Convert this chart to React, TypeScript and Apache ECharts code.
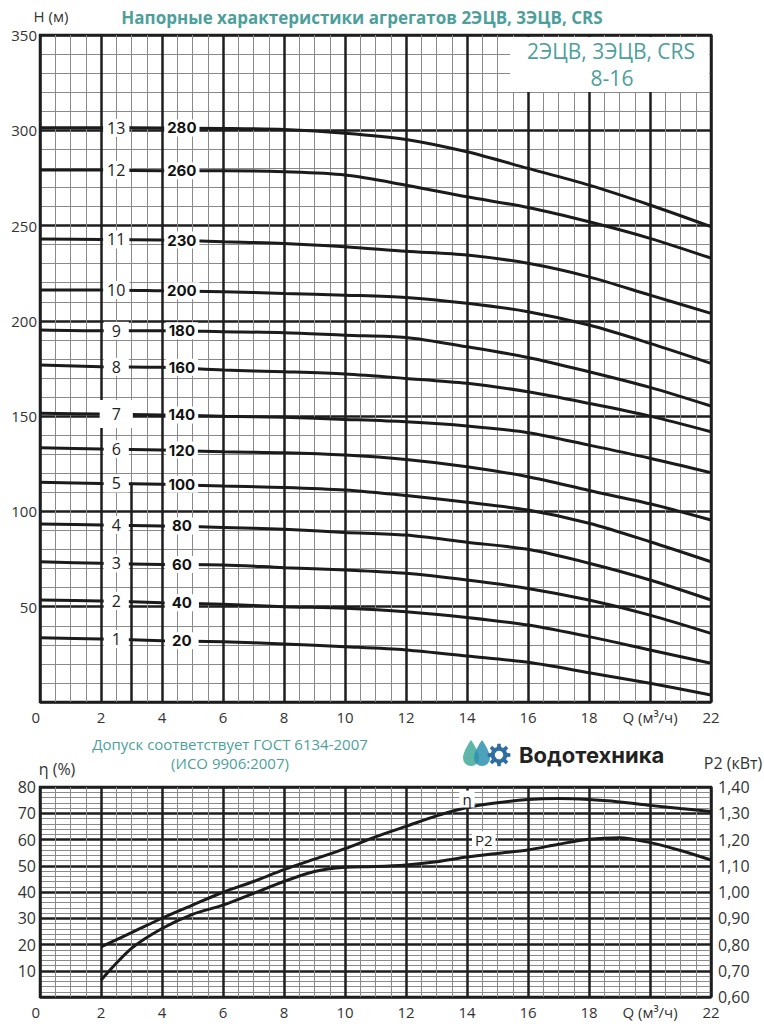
import React, { useEffect, useRef } from "react";
import * as echarts from "echarts";

// ---------- DATA ----------
const Q_POINTS = [0, 2, 4, 6, 8, 10, 12, 14, 16, 18, 20, 22];
const STAGES = [1, 2, 3, 4, 5, 6, 7, 8, 9, 10, 11, 12, 13];
const MODELS = [20, 40, 60, 80, 100, 120, 140, 160, 180, 200, 230, 260, 280];

const H_STAGE_1 = [33.7, 33.1, 32.2, 31.6, 30.4, 29.0, 27.3, 24.1, 20.8, 15.4, 9.8, 3.7];
const H_STAGE_2 = [53.5, 53.0, 52.1, 51.3, 50.0, 49.2, 47.4, 44.4, 40.4, 34.3, 27.3, 20.3];
const H_STAGE_3 = [73.6, 72.8, 72.2, 71.9, 70.5, 69.3, 67.5, 64.0, 59.6, 53.5, 45.6, 36.0];
const H_STAGE_4 = [93.4, 92.9, 92.4, 91.6, 90.6, 89.0, 87.6, 83.8, 80.1, 72.8, 64.0, 53.5];
const H_STAGE_5 = [115.3, 114.7, 114.2, 113.3, 112.6, 111.2, 108.3, 104.8, 100.7, 93.8, 84.1, 73.6];
const H_STAGE_6 = [133.4, 132.7, 132.2, 131.3, 130.8, 129.6, 127.3, 123.5, 118.2, 111.0, 104.0, 95.5];
const H_STAGE_7 = [151.5, 151.1, 150.6, 150.0, 149.4, 148.3, 147.0, 144.8, 141.3, 134.8, 127.9, 120.3];
const H_STAGE_8 = [176.8, 175.9, 175.6, 174.2, 173.3, 172.1, 169.8, 167.2, 162.8, 156.7, 150.0, 141.8];
const H_STAGE_9 = [195.2, 194.8, 194.8, 194.3, 193.8, 192.5, 191.3, 186.4, 180.8, 173.3, 165.1, 155.3];
const H_STAGE_10 = [216.2, 216.2, 215.8, 215.3, 214.4, 213.5, 212.3, 209.2, 204.8, 197.8, 188.2, 177.7];
const H_STAGE_11 = [242.9, 242.7, 242.4, 241.5, 240.6, 238.9, 236.5, 234.5, 230.2, 223.1, 213.5, 203.9];
const H_STAGE_12 = [279.1, 279.1, 278.8, 278.8, 278.2, 276.5, 271.2, 265.1, 259.5, 252.0, 243.3, 232.9];
const H_STAGE_13 = [301.3, 301.3, 301.2, 301.0, 300.4, 298.5, 295.2, 288.7, 280.0, 271.2, 260.8, 249.4];

const HEAD_CURVES = [
  H_STAGE_1, H_STAGE_2, H_STAGE_3, H_STAGE_4, H_STAGE_5, H_STAGE_6, H_STAGE_7,
  H_STAGE_8, H_STAGE_9, H_STAGE_10, H_STAGE_11, H_STAGE_12, H_STAGE_13,
];

// extra vertical rule on the head chart (Q, from H, to H)
const EXTRA_RULE = [[3, 0], [3, 115]];

const EFF_Q = [2, 3, 4, 5, 6, 7, 8, 9, 10, 11, 12, 13, 14, 15, 16, 17, 18, 19, 20, 21, 22];
const EFFICIENCY = [19.1, 24.5, 30.0, 35.0, 39.9, 44.0, 48.5, 52.5, 56.5, 61.0, 65.0, 69.0, 72.2, 74.0, 75.2, 75.6, 75.2, 74.3, 73.0, 71.8, 70.7];
const POWER_P2 = [0.664, 0.785, 0.861, 0.915, 0.95, 0.995, 1.04, 1.078, 1.094, 1.097, 1.103, 1.115, 1.133, 1.147, 1.16, 1.182, 1.201, 1.207, 1.188, 1.158, 1.122];

const CURVE_TAGS = [
  { text: "η", q: 14.0, v: 75.4 },
  { text: "P2", q: 14.55, v: 59.9 },
];

const X_LABEL_REPLACE = { 20: "Q (м³/ч)" } as Record<number, string>;

// ---------- STYLE ----------
const AXIS_FONT = '"Open Sans", "Noto Sans", sans-serif';
const TEAL = "#4d9f9b";
const MAJOR = { color: "#1e1e1e", width: 2.5 };
const MINOR = { color: "#8a8a8a", width: 1 };
const CURVE_COLOR = "#1b1b1b";

// logo shapes
echarts.graphic.registerShape(
  "drop",
  echarts.graphic.extendPath("M8 0 C8 0 0 11 0 18 A8 8 0 0 0 16 18 C16 11 8 0 8 0 Z", {})
);

function gearPoints(cx: number, cy: number, R: number, r: number, teeth: number) {
  const pts: number[][] = [];
  for (let i = 0; i < teeth; i++) {
    const a = (i * 2 * Math.PI) / teeth;
    const s = Math.PI / teeth;
    const angs = [a - s * 0.62, a - s * 0.38, a + s * 0.38, a + s * 0.62];
    const rads = [r, R, R, r];
    angs.forEach((ang, k) => pts.push([cx + rads[k] * Math.cos(ang), cy + rads[k] * Math.sin(ang)]));
  }
  return pts;
}

function xAxisFor(gridIndex: number) {
  return {
    type: "value",
    gridIndex,
    min: 0,
    max: 22,
    interval: 2,
    axisLine: { show: false },
    axisTick: { show: false },
    axisLabel: {
      margin: 7,
      color: "#333",
      fontSize: 15,
      fontFamily: AXIS_FONT,
      alignMinLabel: "right",
      formatter: (v: number) => X_LABEL_REPLACE[v] ?? String(v),
    },
    splitLine: { show: true, lineStyle: MAJOR },
    minorTick: { show: false, splitNumber: 4 },
    minorSplitLine: { show: true, lineStyle: MINOR },
  };
}

function labelScatter(xAxisIndex: number, yAxisIndex: number, data: any[]) {
  return {
    type: "scatter",
    xAxisIndex,
    yAxisIndex,
    symbolSize: 0,
    silent: true,
    z: 10,
    itemStyle: { opacity: 1 },
    emphasis: { disabled: true },
    data,
  };
}

function curveSeries(xAxisIndex: number, yAxisIndex: number, data: number[][], name: string) {
  return {
    type: "line",
    name,
    xAxisIndex,
    yAxisIndex,
    data,
    smooth: 0.3,
    symbol: "none",
    silent: true,
    lineStyle: { color: CURVE_COLOR, width: 3 },
    z: 3,
  };
}

function buildOption() {
  const headSeries = HEAD_CURVES.map((h, i) =>
    curveSeries(0, 0, Q_POINTS.map((q, k) => [q, h[k]]), "stage" + STAGES[i])
  );

  const stageLabels = labelScatter(
    0,
    0,
    HEAD_CURVES.map((h, i) => ({
      value: [2.5, h[1]],
      label: {
        show: true,
        position: "inside",
        formatter: String(STAGES[i]),
        color: "#222",
        opacity: 1,
        fontSize: 16,
        fontFamily: AXIS_FONT,
        backgroundColor: "#ffffff",
        padding: STAGES[i] === 7 ? [6, 12] : [1, STAGES[i] >= 10 ? 4 : 8],
      },
    }))
  );

  const modelLabels = labelScatter(
    0,
    0,
    HEAD_CURVES.map((h, i) => ({
      value: [4.65, h[2]],
      label: {
        show: true,
        position: "inside",
        formatter: String(MODELS[i]),
        color: "#111",
        opacity: 1,
        fontSize: 15,
        fontWeight: "bold",
        fontFamily: '"Inter", "Open Sans", sans-serif',
        backgroundColor: "#ffffff",
        padding: [1, MODELS[i] >= 100 ? 3 : 7],
      },
    }))
  );

  const extraRule = {
    type: "line",
    xAxisIndex: 0,
    yAxisIndex: 0,
    data: EXTRA_RULE,
    symbol: "none",
    silent: true,
    lineStyle: { color: MAJOR.color, width: 2.5 },
    z: 2,
  };

  const effSeries = curveSeries(1, 1, EFF_Q.map((q, k) => [q, EFFICIENCY[k]]), "eta");
  const p2Series = curveSeries(1, 2, EFF_Q.map((q, k) => [q, POWER_P2[k]]), "P2");

  const tagSeries = labelScatter(
    1,
    1,
    CURVE_TAGS.map((t) => ({
      value: [t.q, t.v],
      label: {
        show: true,
        position: "inside",
        formatter: t.text,
        color: "#222",
        opacity: 1,
        fontSize: 15,
        fontFamily: AXIS_FONT,
        backgroundColor: "#ffffff",
        padding: [1, 3],
      },
    }))
  );

  const gear = gearPoints(499, 755, 11.5, 8.3, 8);

  return {
    animation: false,
    backgroundColor: "#fff",
    grid: [
      { left: 40, right: 53, top: 35, bottom: 322, show: true, borderColor: MAJOR.color, borderWidth: 2.5, backgroundColor: "transparent" },
      { left: 40, right: 53, top: 787, bottom: 27, show: true, borderColor: MAJOR.color, borderWidth: 2.5, backgroundColor: "transparent" },
    ],
    xAxis: [xAxisFor(0), xAxisFor(1)],
    yAxis: [
      {
        type: "value",
        gridIndex: 0,
        min: 0,
        max: 350,
        interval: 50,
        axisLine: { show: false },
        axisTick: { show: false },
        axisLabel: { margin: 3, color: "#333", fontSize: 15, fontFamily: AXIS_FONT, formatter: (v: number) => (v === 0 ? "" : String(v)) },
        splitLine: { show: true, lineStyle: MAJOR },
        minorTick: { show: false, splitNumber: 5 },
        minorSplitLine: { show: true, lineStyle: MINOR },
      },
      {
        type: "value",
        gridIndex: 1,
        min: 0,
        max: 80,
        interval: 10,
        axisLine: { show: false },
        axisTick: { show: false },
        axisLabel: { margin: 4, color: "#333", fontSize: 16, fontFamily: AXIS_FONT, formatter: (v: number) => (v === 0 ? "" : String(v)) },
        splitLine: { show: true, lineStyle: MAJOR },
        minorTick: { show: false, splitNumber: 5 },
        minorSplitLine: { show: true, lineStyle: MINOR },
      },
      {
        type: "value",
        gridIndex: 1,
        position: "right",
        min: 0.6,
        max: 1.4,
        interval: 0.1,
        axisLine: { show: false },
        axisTick: { show: false },
        splitLine: { show: false },
        axisLabel: { margin: 7, color: "#333", fontSize: 16, fontFamily: AXIS_FONT, formatter: (v: number) => v.toFixed(2).replace(".", ",") },
      },
    ],
    series: [...headSeries, extraRule, stageLabels, modelLabels, effSeries, p2Series, tagSeries],
    graphic: [
      {
        type: "text",
        x: 362,
        y: 17,
        z: 100,
        style: { text: "Напорные характеристики агрегатов 2ЭЦВ, 3ЭЦВ, CRS", fill: TEAL, font: 'bold 17px "Open Sans"', align: "center", verticalAlign: "middle" },
      },
      {
        type: "text",
        x: 51,
        y: 16,
        z: 100,
        style: { text: "H (м)", fill: "#333", font: '15px "Open Sans"', align: "center", verticalAlign: "middle" },
      },
      {
        type: "rect",
        z: 100,
        shape: { x: 510, y: 37, width: 199, height: 55 },
        style: { fill: "#fff" },
      },
      {
        type: "text",
        x: 611,
        y: 51,
        z: 101,
        style: { text: "2ЭЦВ, 3ЭЦВ, CRS", fill: TEAL, font: '21px "Open Sans"', align: "center", verticalAlign: "middle" },
      },
      {
        type: "text",
        x: 612,
        y: 78,
        z: 101,
        style: { text: "8-16", fill: TEAL, font: '21px "Open Sans"', align: "center", verticalAlign: "middle" },
      },
      {
        type: "text",
        x: 230,
        y: 744,
        z: 100,
        style: { text: "Допуск соответствует ГОСТ 6134-2007", fill: TEAL, font: '15px "Open Sans"', align: "center", verticalAlign: "middle" },
      },
      {
        type: "text",
        x: 230,
        y: 763,
        z: 100,
        style: { text: "(ИСО 9906:2007)", fill: TEAL, font: '15px "Open Sans"', align: "center", verticalAlign: "middle" },
      },
      {
        type: "text",
        x: 57,
        y: 769,
        z: 100,
        style: { text: "η (%)", fill: "#333", font: '16px "Open Sans"', align: "center", verticalAlign: "middle" },
      },
      {
        type: "text",
        x: 733,
        y: 763,
        z: 100,
        style: { text: "P2 (кВт)", fill: "#333", font: '16px "Open Sans"', align: "center", verticalAlign: "middle" },
      },
      { type: "drop", x: 463, y: 740, z: 100, style: { fill: "#5db6a8" } },
      { type: "drop", x: 474, y: 740, z: 101, style: { fill: "rgba(45,145,175,0.85)" } },
      { type: "polygon", z: 102, shape: { points: gear }, style: { fill: "#2f6ea3" } },
      { type: "circle", z: 103, shape: { cx: 499, cy: 755, r: 4.2 }, style: { fill: "#fff" } },
      {
        type: "text",
        x: 519,
        y: 755,
        z: 100,
        style: { text: "Водотехника", fill: "#222", font: 'bold 22px "Inter"', align: "left", verticalAlign: "middle" },
      },
    ],
  };
}

export default function App() {
  const ref = useRef<HTMLDivElement>(null);
  useEffect(() => {
    if (!ref.current) return;
    const chart = echarts.init(ref.current, null, { renderer: "svg" });
    chart.setOption(buildOption() as any);
    return () => chart.dispose();
  }, []);
  return (
    <div
      ref={ref}
      style={{ position: "fixed", left: 0, top: 0, width: 764, height: 1024, background: "#fff" }}
    />
  );
}
